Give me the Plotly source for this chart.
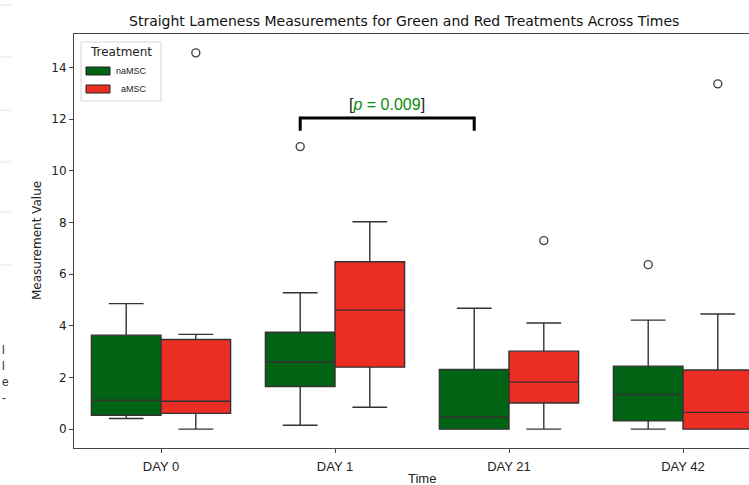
import plotly.graph_objects as go

# ---------------- data ----------------
days = ["DAY 0", "DAY 1", "DAY 21", "DAY 42"]
treatments = ["naMSC", "aMSC"]

green_lower = [0.41, 0.15, 0.00, 0.00]
green_q1 = [0.54, 1.65, 0.00, 0.32]
green_median = [1.12, 2.61, 0.47, 1.34]
green_q3 = [3.64, 3.75, 2.31, 2.44]
green_upper = [4.86, 5.28, 4.68, 4.22]
green_outlier_days = [1, 3]
green_outlier_vals = [10.94, 6.37]

red_lower = [0.00, 0.85, 0.00, 0.00]
red_q1 = [0.61, 2.40, 1.01, 0.00]
red_median = [1.08, 4.61, 1.82, 0.65]
red_q3 = [3.47, 6.48, 3.02, 2.29]
red_upper = [3.67, 8.03, 4.11, 4.46]
red_outlier_days = [0, 2, 3]
red_outlier_vals = [14.57, 7.30, 13.37]

y_ticks = [0, 2, 4, 6, 8, 10, 12, 14]
p_text = "0.009"
bracket_days = [1, 2]       # compared groups (naMSC on DAY 1 vs DAY 21)
bracket_top = 12.05
bracket_drop = 0.5

# ---------------- style ----------------
W, H = 749, 485
ML, MR, MT, MB = 74, 0, 34, 37
PW, PH = W - ML - MR, H - MT - MB
UNIT_PX = 174.0
x_range = [-0.5, -0.5 + PW / UNIT_PX]
y_range = [-0.73, 15.3]

GREEN = "#006414"
RED = "#eb2e24"
EDGE = "#333333"
HALF = 0.2
BOXW = 0.4


def px2x(px):
    return (px - ML) / PW


def px2y(py):
    return (H - MB - py) / PH


fig = go.Figure()

series = [
    (treatments[0], GREEN, -HALF, green_lower, green_q1, green_median, green_q3, green_upper,
     green_outlier_days, green_outlier_vals),
    (treatments[1], RED, HALF, red_lower, red_q1, red_median, red_q3, red_upper,
     red_outlier_days, red_outlier_vals),
]

for name, col, off, lo, q1, med, q3, up, od, ov in series:
    pos = [i + off for i in range(len(days))]
    fig.add_trace(go.Box(
        x=pos, q1=q1, median=med, q3=q3, lowerfence=lo, upperfence=up,
        width=BOXW, whiskerwidth=0.5, fillcolor=col,
        line=dict(color=EDGE, width=1.4), boxpoints=False,
        name=name, showlegend=False, hoverinfo="skip",
    ))
    fig.add_trace(go.Scatter(
        x=[d + off for d in od], y=ov, mode="markers",
        marker=dict(symbol="circle-open", size=8, color="#444444",
                    line=dict(width=1.4, color="#444444")),
        showlegend=False, hoverinfo="skip",
    ))

# significance bracket
bx0 = bracket_days[0] - HALF
bx1 = bracket_days[1] - HALF
fig.add_trace(go.Scatter(
    x=[bx0, bx0, bx1, bx1],
    y=[bracket_top - bracket_drop, bracket_top, bracket_top, bracket_top - bracket_drop],
    mode="lines", line=dict(color="black", width=3),
    showlegend=False, hoverinfo="skip",
))
fig.add_annotation(
    x=(bx0 + bx1) / 2, y=bracket_top + 0.1, xref="x", yref="y",
    text="[<span style='color:#0a8a0a'><i>p</i> = " + p_text + "</span>]",
    showarrow=False, yanchor="bottom", xanchor="center",
    font=dict(family="Liberation Sans, Arial", size=16, color="#222222"),
)


def label(px, py, text, size, family="DejaVu Sans", xanchor="center", angle=0, color="#222222"):
    fig.add_annotation(xref="paper", yref="paper", x=px2x(px), y=px2y(py),
                       text=text, showarrow=False, xanchor=xanchor, yanchor="middle",
                       textangle=angle, font=dict(family=family, size=size, color=color))


# manual legend
fig.add_shape(type="rect", xref="paper", yref="paper",
              x0=px2x(81), x1=px2x(161), y0=px2y(101), y1=px2y(42),
              line=dict(color="#d8d8d8", width=1), fillcolor="white", layer="above")
label(121, 52, "Treatment", 12)
for i, (name, col) in enumerate([(treatments[0], GREEN), (treatments[1], RED)]):
    cy = 71 + 18 * i
    fig.add_shape(type="rect", xref="paper", yref="paper",
                  x0=px2x(86), x1=px2x(110), y0=px2y(cy + 4), y1=px2y(cy - 4),
                  line=dict(color="#222222", width=1), fillcolor=col, layer="above")
    label(149, cy, name, 9, family="Liberation Sans, Arial", xanchor="right")

# title and axis titles
label(404, 21, "Straight Lameness Measurements for Green and Red Treatments Across Times", 14,
      color="#111111")
label(37, 241, "Measurement Value", 12, angle=-90)
label(422, 479, "Time", 13, family="Liberation Sans, Arial")

# faint artifacts at the left edge of the cropped picture
for py in [5, 57, 110, 162, 212, 265]:
    fig.add_shape(type="line", xref="paper", yref="paper",
                  x0=px2x(0), x1=px2x(11), y0=px2y(py), y1=px2y(py),
                  line=dict(color="#e4e4e4", width=1))
for ch, py in zip(["l", "l", "e", "-"], [350, 366, 382, 398]):
    label(0, py, ch, 12, family="Liberation Sans, Arial", xanchor="left", color="#333333")

fig.update_layout(
    width=W, height=H,
    margin=dict(l=ML, r=MR, t=MT, b=MB, pad=0),
    paper_bgcolor="white", plot_bgcolor="white",
    showlegend=False,
    xaxis=dict(range=x_range, tickvals=list(range(len(days))), ticktext=days,
               showgrid=False, zeroline=False, showline=True, mirror=True,
               linecolor="#444444", linewidth=1, ticks="outside", ticklen=4,
               tickcolor="#444444", ticklabelstandoff=2,
               tickfont=dict(family="Liberation Sans, Arial", size=13, color="#222222")),
    yaxis=dict(range=y_range, tickvals=y_ticks, showgrid=False, zeroline=False,
               showline=True, linecolor="#444444", linewidth=1, ticks="outside",
               ticklen=4, tickcolor="#444444",
               tickfont=dict(family="DejaVu Sans", size=12, color="#222222")),
)

fig.write_html("out.html")
